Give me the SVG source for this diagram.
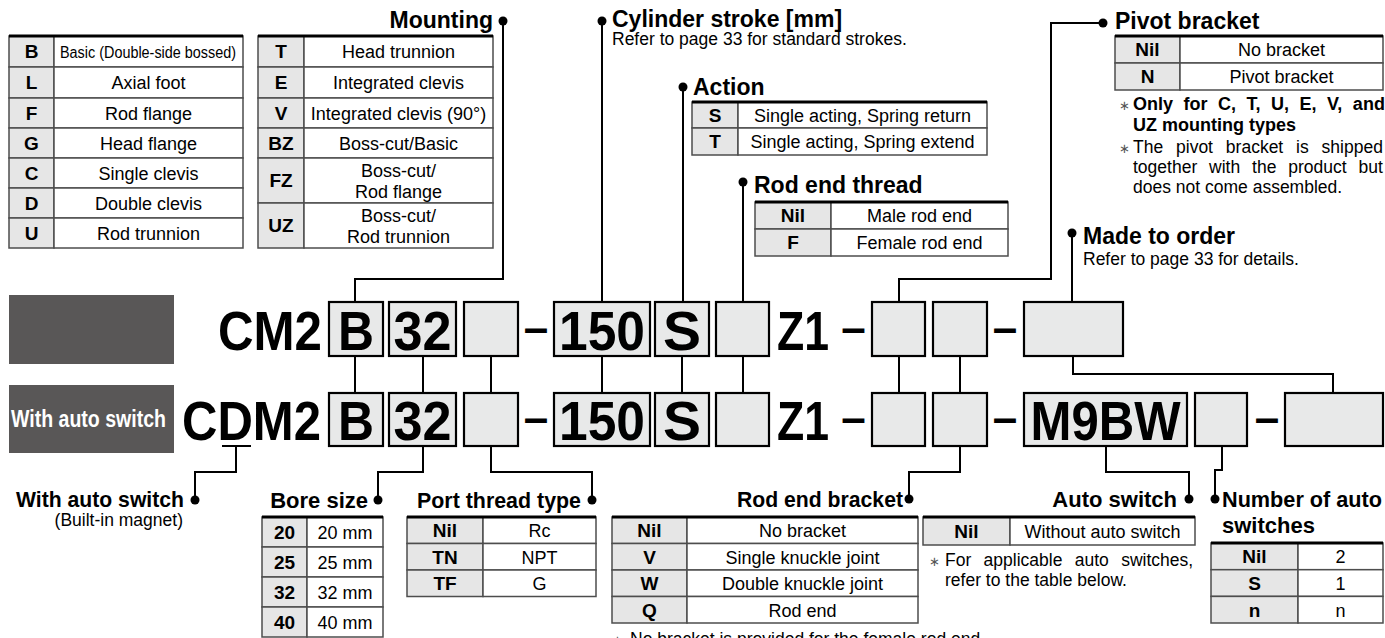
<svg xmlns="http://www.w3.org/2000/svg" width="1385" height="638" viewBox="0 0 1385 638">
<defs>
<style>
text{font-family:"Liberation Sans",Arial,Helvetica,sans-serif;fill:#000}
.h{font-size:23px;font-weight:bold}
.hb{font-size:22px;font-weight:bold}
.s{font-size:17.5px}
.t{font-size:18px;text-anchor:middle}
.k{font-size:19px;font-weight:bold;text-anchor:middle}
.big{font-size:56px;font-weight:bold}
.bm{font-size:56px;font-weight:bold;text-anchor:middle}
.dash{font-size:44px;font-weight:bold;text-anchor:middle}
.e{text-anchor:end}
.ast{font-size:13px;fill:#555}
.cell{fill:#fff;stroke:#4d4d4d;stroke-width:1.5}
.key{fill:#e6e6e6;stroke:#4d4d4d;stroke-width:1.5}
.top{stroke:#000;stroke-width:3}
.box{fill:#e8e9e9;stroke:#000;stroke-width:2.2}
.gb{fill:#595757}
.ln{fill:none;stroke:#000;stroke-width:2}
.dot{fill:#000}
.wt{fill:#fff;font-size:23px;font-weight:bold}
</style>
</defs>
<rect width="1385" height="638" fill="#fff"/>

<g id="mounting-table-a">
<rect class="key" x="9" y="36" width="45" height="31"/><rect class="cell" x="54" y="36" width="189" height="31"/>
<rect class="key" x="9" y="67" width="45" height="31"/><rect class="cell" x="54" y="67" width="189" height="31"/>
<rect class="key" x="9" y="98" width="45" height="30"/><rect class="cell" x="54" y="98" width="189" height="30"/>
<rect class="key" x="9" y="128" width="45" height="30"/><rect class="cell" x="54" y="128" width="189" height="30"/>
<rect class="key" x="9" y="158" width="45" height="30"/><rect class="cell" x="54" y="158" width="189" height="30"/>
<rect class="key" x="9" y="188" width="45" height="30"/><rect class="cell" x="54" y="188" width="189" height="30"/>
<rect class="key" x="9" y="218" width="45" height="30"/><rect class="cell" x="54" y="218" width="189" height="30"/>
<line class="top" x1="9" y1="36" x2="243" y2="36"/>
<text class="k" x="31.5" y="58">B</text><text x="60" y="58" font-size="16" textLength="176" lengthAdjust="spacingAndGlyphs">Basic (Double-side bossed)</text>
<text class="k" x="31.5" y="89">L</text><text class="t" x="148.5" y="89">Axial foot</text>
<text class="k" x="31.5" y="119.5">F</text><text class="t" x="148.5" y="119.5">Rod flange</text>
<text class="k" x="31.5" y="149.5">G</text><text class="t" x="148.5" y="149.5">Head flange</text>
<text class="k" x="31.5" y="179.5">C</text><text class="t" x="148.5" y="179.5">Single clevis</text>
<text class="k" x="31.5" y="209.5">D</text><text class="t" x="148.5" y="209.5">Double clevis</text>
<text class="k" x="31.5" y="239.5">U</text><text class="t" x="148.5" y="239.5">Rod trunnion</text>
</g>

<g id="mounting-table-b">
<rect class="key" x="258" y="36" width="46" height="31"/><rect class="cell" x="304" y="36" width="189" height="31"/>
<rect class="key" x="258" y="67" width="46" height="31"/><rect class="cell" x="304" y="67" width="189" height="31"/>
<rect class="key" x="258" y="98" width="46" height="30"/><rect class="cell" x="304" y="98" width="189" height="30"/>
<rect class="key" x="258" y="128" width="46" height="30"/><rect class="cell" x="304" y="128" width="189" height="30"/>
<rect class="key" x="258" y="158" width="46" height="45"/><rect class="cell" x="304" y="158" width="189" height="45"/>
<rect class="key" x="258" y="203" width="46" height="45"/><rect class="cell" x="304" y="203" width="189" height="45"/>
<line class="top" x1="258" y1="36" x2="493" y2="36"/>
<text class="k" x="281" y="58">T</text><text class="t" x="398.5" y="58">Head trunnion</text>
<text class="k" x="281" y="89">E</text><text class="t" x="398.5" y="89">Integrated clevis</text>
<text class="k" x="281" y="119.5">V</text><text class="t" x="398.5" y="119.5">Integrated clevis (90°)</text>
<text class="k" x="281" y="149.5">BZ</text><text class="t" x="398.5" y="149.5">Boss-cut/Basic</text>
<text class="k" x="281" y="187">FZ</text><text class="t" x="398.5" y="177">Boss-cut/</text><text class="t" x="398.5" y="198">Rod flange</text>
<text class="k" x="281" y="232">UZ</text><text class="t" x="398.5" y="222">Boss-cut/</text><text class="t" x="398.5" y="243">Rod trunnion</text>
</g>

<g id="mounting-label">
<text class="h e" x="493" y="28">Mounting</text>
</g>

<g id="stroke-label">
<text class="h" x="612" y="27">Cylinder stroke [mm]</text>
<text class="s" x="612" y="45">Refer to page 33 for standard strokes.</text>
</g>

<g id="action">
<text class="h" x="693" y="95">Action</text>
<rect class="key" x="692" y="102" width="46" height="26"/><rect class="cell" x="738" y="102" width="249" height="26"/>
<rect class="key" x="692" y="128" width="46" height="27"/><rect class="cell" x="738" y="128" width="249" height="27"/>
<line class="top" x1="692" y1="102" x2="987" y2="102"/>
<text class="k" x="715" y="121.5">S</text><text class="t" x="862.5" y="121.5">Single acting, Spring return</text>
<text class="k" x="715" y="148">T</text><text class="t" x="862.5" y="148">Single acting, Spring extend</text>
</g>

<g id="rod-end-thread">
<text class="h" x="754" y="193">Rod end thread</text>
<rect class="key" x="755" y="202" width="76" height="27"/><rect class="cell" x="831" y="202" width="177" height="27"/>
<rect class="key" x="755" y="229" width="76" height="27"/><rect class="cell" x="831" y="229" width="177" height="27"/>
<line class="top" x1="755" y1="202" x2="1008" y2="202"/>
<text class="k" x="793" y="222">Nil</text><text class="t" x="919.5" y="222">Male rod end</text>
<text class="k" x="793" y="249">F</text><text class="t" x="919.5" y="249">Female rod end</text>
</g>

<g id="pivot-bracket">
<text class="h" x="1115" y="29">Pivot bracket</text>
<rect class="key" x="1115" y="36" width="65" height="27"/><rect class="cell" x="1180" y="36" width="203" height="27"/>
<rect class="key" x="1115" y="63" width="65" height="27"/><rect class="cell" x="1180" y="63" width="203" height="27"/>
<line class="top" x1="1115" y1="36" x2="1383" y2="36"/>
<text class="k" x="1147.5" y="56">Nil</text><text class="t" x="1281.5" y="56">No bracket</text>
<text class="k" x="1147.5" y="83">N</text><text class="t" x="1281.5" y="83">Pivot bracket</text>
<text class="ast" x="1119" y="110">∗</text>
<text x="1133" y="110" font-size="18" font-weight="bold" word-spacing="5.5">Only for C, T, U, E, V, and</text>
<text x="1133" y="131" font-size="18" font-weight="bold">UZ mounting types</text>
<text class="ast" x="1119" y="153">∗</text>
<text class="s" x="1133" y="153" word-spacing="8">The pivot bracket is shipped</text>
<text class="s" x="1133" y="173" word-spacing="7">together with the product but</text>
<text class="s" x="1133" y="193">does not come assembled.</text>
</g>

<g id="made-to-order">
<text class="h" x="1083" y="244">Made to order</text>
<text class="s" x="1083" y="265">Refer to page 33 for details.</text>
</g>

<g id="series-tags">
<rect class="gb" x="9" y="295" width="165" height="69"/>
<rect class="gb" x="9" y="385" width="165" height="68"/>
<text class="wt" x="11" y="427" textLength="155" lengthAdjust="spacingAndGlyphs">With auto switch</text>
</g>

<g id="code-cm2">
<text class="big" x="218" y="350" textLength="104" lengthAdjust="spacingAndGlyphs">CM2</text>
<rect class="box" x="329" y="302" width="54" height="54"/><text class="bm" x="356" y="350" textLength="36" lengthAdjust="spacingAndGlyphs">B</text>
<rect class="box" x="389" y="302" width="67" height="54"/><text class="bm" x="422.5" y="350" textLength="58" lengthAdjust="spacingAndGlyphs">32</text>
<rect class="box" x="464" y="302" width="54" height="54"/>
<text class="dash" x="536" y="343">–</text>
<rect class="box" x="554" y="302" width="96" height="54"/><text class="bm" x="602" y="350" textLength="86" lengthAdjust="spacingAndGlyphs">150</text>
<rect class="box" x="655" y="302" width="54" height="54"/><text class="bm" x="682" y="350" textLength="38" lengthAdjust="spacingAndGlyphs">S</text>
<rect class="box" x="716" y="302" width="53" height="54"/>
<text class="big" x="777" y="350" textLength="52" lengthAdjust="spacingAndGlyphs">Z1</text>
<text class="dash" x="853.5" y="343">–</text>
<rect class="box" x="872" y="302" width="53" height="54"/>
<rect class="box" x="933" y="302" width="54" height="54"/>
<text class="dash" x="1005" y="343">–</text>
<rect class="box" x="1024" y="302" width="99" height="54"/>
</g>

<g id="code-cdm2">
<text class="big" x="182" y="440" textLength="139" lengthAdjust="spacingAndGlyphs">CDM2</text>
<rect class="box" x="329" y="393" width="54" height="53"/><text class="bm" x="356" y="440" textLength="36" lengthAdjust="spacingAndGlyphs">B</text>
<rect class="box" x="389" y="393" width="67" height="53"/><text class="bm" x="422.5" y="440" textLength="58" lengthAdjust="spacingAndGlyphs">32</text>
<rect class="box" x="464" y="393" width="54" height="53"/>
<text class="dash" x="536" y="433">–</text>
<rect class="box" x="554" y="393" width="96" height="53"/><text class="bm" x="602" y="440" textLength="86" lengthAdjust="spacingAndGlyphs">150</text>
<rect class="box" x="655" y="393" width="54" height="53"/><text class="bm" x="682" y="440" textLength="38" lengthAdjust="spacingAndGlyphs">S</text>
<rect class="box" x="716" y="393" width="53" height="53"/>
<text class="big" x="777" y="440" textLength="52" lengthAdjust="spacingAndGlyphs">Z1</text>
<text class="dash" x="853.5" y="433">–</text>
<rect class="box" x="872" y="393" width="53" height="53"/>
<rect class="box" x="933" y="393" width="54" height="53"/>
<text class="dash" x="1005" y="433">–</text>
<rect class="box" x="1024" y="393" width="163" height="53"/><text class="bm" x="1105.5" y="440" textLength="150" lengthAdjust="spacingAndGlyphs">M9BW</text>
<rect class="box" x="1195" y="393" width="52" height="53"/>
<text class="dash" x="1267" y="433">–</text>
<rect class="box" x="1285" y="393" width="98" height="53"/>
</g>

<g id="with-auto-switch">
<text class="hb" x="16" y="507" textLength="168" lengthAdjust="spacingAndGlyphs">With auto switch</text>
<text class="s e" x="183" y="526">(Built-in magnet)</text>
</g>

<g id="bore-size">
<text class="hb e" x="368" y="508">Bore size</text>
<rect class="key" x="262" y="517" width="45" height="30"/><rect class="cell" x="307" y="517" width="76" height="30"/>
<rect class="key" x="262" y="547" width="45" height="30"/><rect class="cell" x="307" y="547" width="76" height="30"/>
<rect class="key" x="262" y="577" width="45" height="30"/><rect class="cell" x="307" y="577" width="76" height="30"/>
<rect class="key" x="262" y="607" width="45" height="30"/><rect class="cell" x="307" y="607" width="76" height="30"/>
<line class="top" x1="262" y1="517" x2="383" y2="517"/>
<text class="k" x="284.5" y="538.5">20</text><text class="t" x="345" y="538.5">20 mm</text>
<text class="k" x="284.5" y="568.5">25</text><text class="t" x="345" y="568.5">25 mm</text>
<text class="k" x="284.5" y="598.5">32</text><text class="t" x="345" y="598.5">32 mm</text>
<text class="k" x="284.5" y="628.5">40</text><text class="t" x="345" y="628.5">40 mm</text>
</g>

<g id="port-thread">
<text class="hb" x="417" y="508" textLength="164" lengthAdjust="spacingAndGlyphs">Port thread type</text>
<rect class="key" x="407" y="517" width="76" height="26.5"/><rect class="cell" x="483" y="517" width="113" height="26.5"/>
<rect class="key" x="407" y="543.5" width="76" height="26.5"/><rect class="cell" x="483" y="543.5" width="113" height="26.5"/>
<rect class="key" x="407" y="570" width="76" height="26.5"/><rect class="cell" x="483" y="570" width="113" height="26.5"/>
<line class="top" x1="407" y1="517" x2="596" y2="517"/>
<text class="k" x="445" y="537">Nil</text><text class="t" x="539.5" y="537">Rc</text>
<text class="k" x="445" y="563.5">TN</text><text class="t" x="539.5" y="563.5">NPT</text>
<text class="k" x="445" y="590">TF</text><text class="t" x="539.5" y="590">G</text>
</g>

<g id="rod-end-bracket">
<text class="hb" x="737" y="507" textLength="166" lengthAdjust="spacingAndGlyphs">Rod end bracket</text>
<rect class="key" x="612" y="517" width="75" height="26.5"/><rect class="cell" x="687" y="517" width="231" height="26.5"/>
<rect class="key" x="612" y="543.5" width="75" height="26.5"/><rect class="cell" x="687" y="543.5" width="231" height="26.5"/>
<rect class="key" x="612" y="570" width="75" height="26.5"/><rect class="cell" x="687" y="570" width="231" height="26.5"/>
<rect class="key" x="612" y="596.5" width="75" height="26.5"/><rect class="cell" x="687" y="596.5" width="231" height="26.5"/>
<line class="top" x1="612" y1="517" x2="918" y2="517"/>
<text class="k" x="649.5" y="537">Nil</text><text class="t" x="802.5" y="537">No bracket</text>
<text class="k" x="649.5" y="563.5">V</text><text class="t" x="802.5" y="563.5">Single knuckle joint</text>
<text class="k" x="649.5" y="590">W</text><text class="t" x="802.5" y="590">Double knuckle joint</text>
<text class="k" x="649.5" y="616.5">Q</text><text class="t" x="802.5" y="616.5">Rod end</text>
<text class="ast" x="612" y="645">∗</text>
<text class="s" x="630" y="645">No bracket is provided for the female rod end.</text>
</g>

<g id="auto-switch">
<text class="hb e" x="1177" y="507">Auto switch</text>
<rect class="key" x="923" y="517" width="87" height="28"/><rect class="cell" x="1010" y="517" width="185" height="28"/>
<line class="top" x1="923" y1="517" x2="1195" y2="517"/>
<text class="k" x="966.5" y="538">Nil</text><text class="t" x="1102.5" y="538">Without auto switch</text>
<text class="ast" x="929" y="566">∗</text>
<text class="s" x="945" y="566" word-spacing="7.5">For applicable auto switches,</text>
<text class="s" x="945" y="586">refer to the table below.</text>
</g>

<g id="number-of-switches">
<text class="hb" x="1222" y="507" textLength="160" lengthAdjust="spacingAndGlyphs">Number of auto</text>
<text class="hb" x="1222" y="533">switches</text>
<rect class="key" x="1211" y="543" width="87" height="26.7"/><rect class="cell" x="1298" y="543" width="85" height="26.7"/>
<rect class="key" x="1211" y="569.7" width="87" height="26.7"/><rect class="cell" x="1298" y="569.7" width="85" height="26.7"/>
<rect class="key" x="1211" y="596.4" width="87" height="26.6"/><rect class="cell" x="1298" y="596.4" width="85" height="26.6"/>
<line class="top" x1="1211" y1="543" x2="1383" y2="543"/>
<text class="k" x="1254.5" y="563">Nil</text><text class="t" x="1340.5" y="563">2</text>
<text class="k" x="1254.5" y="590">S</text><text class="t" x="1340.5" y="590">1</text>
<text class="k" x="1254.5" y="616.5">n</text><text class="t" x="1340.5" y="616.5">n</text>
</g>

<g id="connectors">
<path class="ln" d="M503,21 V279 H355 V302"/>
<path class="ln" d="M602,21 V302"/>
<path class="ln" d="M683,87 V302"/>
<path class="ln" d="M743,182 V302"/>
<path class="ln" d="M1103,23 H1051 V279 H899 V302"/>
<path class="ln" d="M1072,233 V302"/>
<path class="ln" d="M355,356 V393 M423,356 V393 M491,356 V393 M602,356 V393 M682,356 V393 M743,356 V393 M899,356 V393 M960,356 V393"/>
<path class="ln" d="M1073,356 V374 H1333 V393"/>
<path class="ln" d="M222,446 H251 M236,446 V472 H195 V500"/>
<path class="ln" d="M423,446 V472 H378 V500"/>
<path class="ln" d="M491,446 V472 H592 V500"/>
<path class="ln" d="M960,446 V472 H909 V499"/>
<path class="ln" d="M1106,446 V472 H1189 V499"/>
<path class="ln" d="M1222,446 V470 H1215 V499"/>
<circle class="dot" cx="503" cy="21" r="4.5"/>
<circle class="dot" cx="602" cy="21" r="4.5"/>
<circle class="dot" cx="683" cy="87" r="4.5"/>
<circle class="dot" cx="743" cy="182" r="4.5"/>
<circle class="dot" cx="1103" cy="23" r="4.5"/>
<circle class="dot" cx="1072" cy="233" r="4.5"/>
<circle class="dot" cx="195" cy="500" r="4.5"/>
<circle class="dot" cx="378" cy="500" r="4.5"/>
<circle class="dot" cx="592" cy="500" r="4.5"/>
<circle class="dot" cx="909" cy="499" r="4.5"/>
<circle class="dot" cx="1189" cy="499" r="4.5"/>
<circle class="dot" cx="1215" cy="499" r="4.5"/>
</g>
</svg>
